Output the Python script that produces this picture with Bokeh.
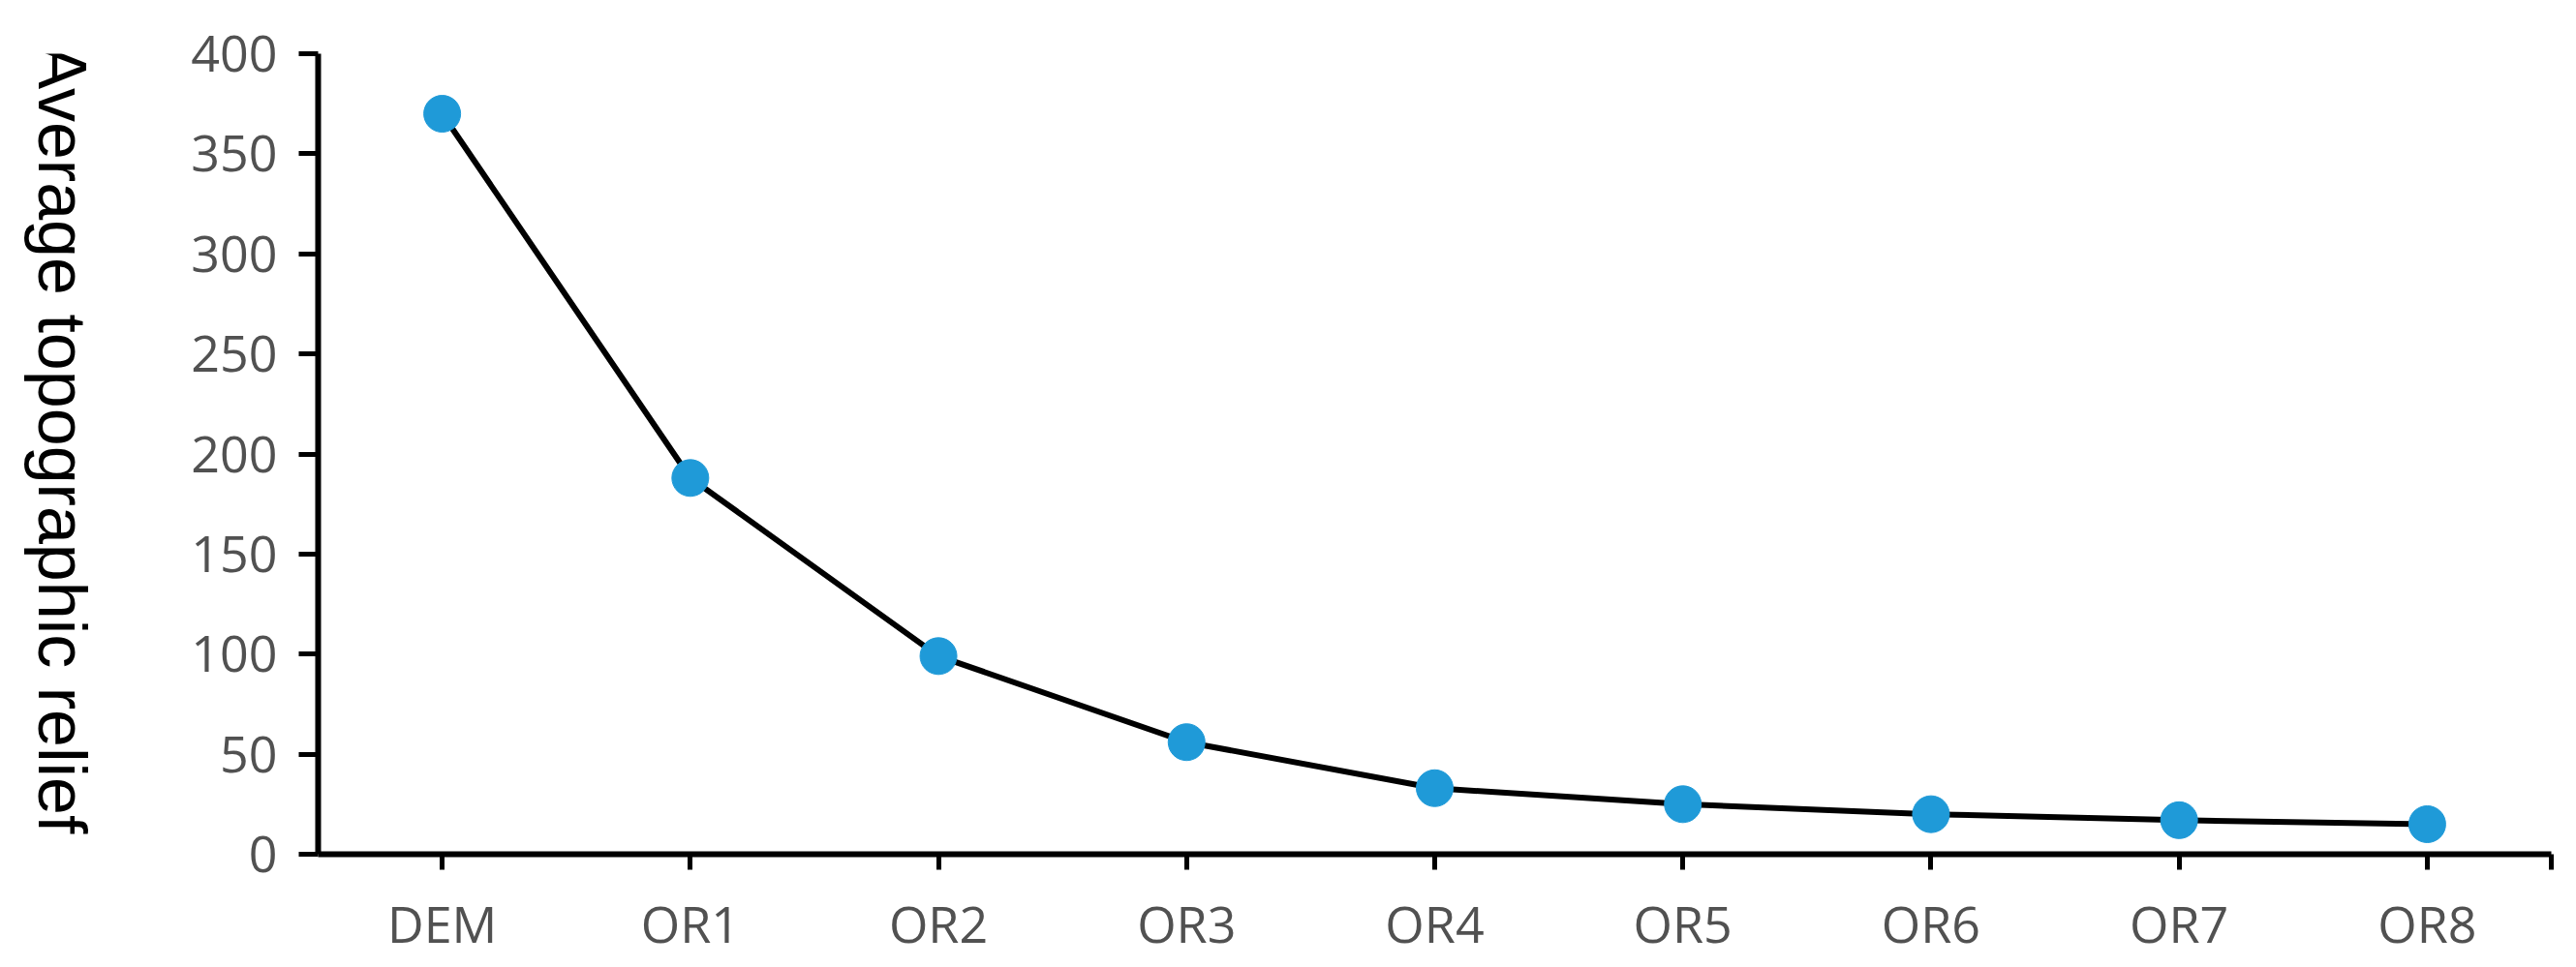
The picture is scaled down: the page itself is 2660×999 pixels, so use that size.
import math
from bokeh.plotting import figure
from bokeh.layouts import row
from bokeh.models import Range1d, FixedTicker, SingleIntervalTicker, Label, ColumnDataSource
from bokeh.embed import file_html
from bokeh.resources import INLINE

categories = ["DEM", "OR1", "OR2", "OR3", "OR4", "OR5", "OR6", "OR7", "OR8"]
relief = [370, 188, 99, 56, 33, 25, 20, 17, 15]
y_label = "Average topographic  relief"

xs = list(range(len(categories)))
src = ColumnDataSource(data=dict(x=xs, y=relief, cat=categories))

H = 993
LW = 120

# narrow panel holding the rotated y-axis title (reads top to bottom)
t = figure(width=LW, height=H, output_backend="svg", toolbar_location=None,
           x_range=Range1d(0, LW), y_range=Range1d(0, H),
           x_axis_type=None, y_axis_type=None, min_border=0)
t.outline_line_color = None
t.xgrid.grid_line_color = None
t.ygrid.grid_line_color = None
t.border_fill_color = "white"
t.background_fill_color = "white"
t.add_layout(Label(x=63, y=H + 12, x_units="data", y_units="data", text=y_label,
                   angle=-math.pi / 2, text_align="left", text_baseline="alphabetic",
                   text_font="Liberation Sans", text_font_size="70px", text_color="black"))

p = figure(width=2651 - LW, height=H, output_backend="svg", toolbar_location=None,
           x_range=Range1d(-0.5, len(categories) - 0.5), y_range=Range1d(0, 400),
           min_border_left=328 - LW, min_border_right=17, min_border_top=55, min_border_bottom=111)
p.outline_line_color = None
p.xgrid.grid_line_color = None
p.ygrid.grid_line_color = None
p.background_fill_color = "white"
p.border_fill_color = "white"

p.line("x", "y", source=src, line_color="black", line_width=6)
p.scatter("x", "y", source=src, size=38, fill_color="#1f9ad8", line_color="#1f9ad8", line_width=1)

# x axis
xa = p.xaxis[0]
xa.ticker = FixedTicker(ticks=xs + [len(categories) - 0.5])
overrides = {i: c for i, c in enumerate(categories)}
overrides[len(categories) - 0.5] = ""
xa.major_label_overrides = overrides
xa.axis_line_color = "black"
xa.axis_line_width = 6
xa.major_tick_line_color = "black"
xa.major_tick_line_width = 5
xa.major_tick_in = 0
xa.major_tick_out = 16
xa.minor_tick_line_color = None
xa.major_label_standoff = 19
xa.major_label_text_font = "Open Sans"
xa.major_label_text_font_size = "52px"
xa.major_label_text_color = "#515151"

# y axis
ya = p.yaxis[0]
ya.ticker = SingleIntervalTicker(interval=50)
ya.axis_line_color = "black"
ya.axis_line_width = 6
ya.major_tick_line_color = "black"
ya.major_tick_line_width = 5
ya.major_tick_in = 0
ya.major_tick_out = 20
ya.minor_tick_line_color = None
ya.major_label_standoff = 22
ya.major_label_text_font = "Open Sans"
ya.major_label_text_font_size = "52px"
ya.major_label_text_color = "#515151"

layout = row(t, p, spacing=0)
open("out.html", "w").write(file_html(layout, INLINE))
